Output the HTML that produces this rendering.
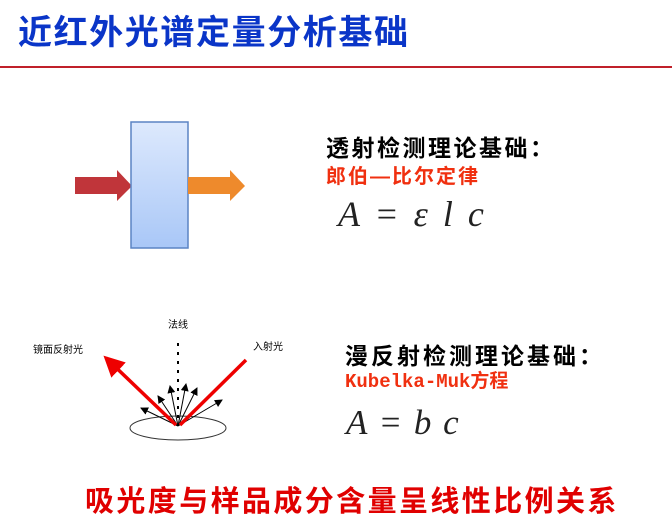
<!DOCTYPE html>
<html><head><meta charset="utf-8"><style>
body{margin:0;width:672px;height:528px;background:#fff;position:relative;overflow:hidden;font-family:"Liberation Sans","Noto Sans CJK SC",sans-serif}
.a{position:absolute;white-space:nowrap;font-weight:bold}
.f{position:absolute;white-space:nowrap;font-family:"Liberation Serif","DejaVu Serif",serif;font-style:italic;color:#222}
</style></head><body>
<div class="a" style="left:18px;top:5px;font-size:34px;color:#0a35c8;letter-spacing:1.6px">近红外光谱定量分析基础</div>
<div style="position:absolute;left:0;top:66px;width:672px;height:2px;background:#c0202a"></div>

<svg style="position:absolute;left:0;top:0" width="672" height="528">
<defs><linearGradient id="g" x1="0" y1="0" x2="0" y2="1"><stop offset="0" stop-color="#dde9fd"/><stop offset="1" stop-color="#a9c7f7"/></linearGradient>
<marker id="ar" markerWidth="6" markerHeight="6" refX="5" refY="3" orient="auto"><path d="M0,0L6,3L0,6z" fill="#e00"/></marker>
<marker id="ab" markerWidth="8" markerHeight="8" refX="7" refY="4" orient="auto" markerUnits="userSpaceOnUse"><path d="M0,0L8,4L0,8z" fill="#000"/></marker></defs>
<path d="M75,177H117V170L132,186L117,201V194H75z" fill="#c0353a"/>
<rect x="131" y="122" width="57" height="126" fill="url(#g)" stroke="#5b84c4" stroke-width="1.5"/>
<path d="M188,177H230V170L245,186L230,201V194H188z" fill="#ee8a2c"/>
<ellipse cx="178" cy="428" rx="48" ry="12" fill="none" stroke="#333" stroke-width="1"/>
<line x1="178" y1="343" x2="178" y2="420" stroke="#000" stroke-width="2" stroke-dasharray="3,6"/>
<g stroke="#000" stroke-width="1" marker-end="url(#ab)">
<line x1="178" y1="426" x2="141" y2="408"/><line x1="178" y1="426" x2="158" y2="396"/>
<line x1="178" y1="426" x2="170" y2="386"/><line x1="178" y1="426" x2="186" y2="384"/>
<line x1="178" y1="426" x2="197" y2="388"/><line x1="178" y1="426" x2="222" y2="400"/>
</g>
<line x1="246" y1="360" x2="180" y2="425" stroke="#e00" stroke-width="3.5"/>
<line x1="176" y1="425" x2="106" y2="358" stroke="#e00" stroke-width="3.5" marker-end="url(#ar)"/>
<text x="168" y="328" font-size="10" font-family="Noto Sans CJK SC,sans-serif">法线</text>
<text x="33" y="353" font-size="10" font-family="Noto Sans CJK SC,sans-serif">镜面反射光</text>
<text x="253" y="350" font-size="10" font-family="Noto Sans CJK SC,sans-serif">入射光</text>
</svg>

<div class="a" style="left:326px;top:129px;font-size:23px;color:#000;letter-spacing:2.5px">透射检测理论基础：</div>
<div class="a" style="left:326px;top:160px;font-size:20px;color:#f03010;letter-spacing:2px">郎伯—比尔定律</div>
<div class="f" style="left:338px;top:193px;font-size:36px;word-spacing:6px">A = ε l c</div>

<div class="a" style="left:345px;top:337px;font-size:23px;color:#000;letter-spacing:3px">漫反射检测理论基础：</div>
<div class="a" style="left:345px;top:366px;font-size:19px;color:#f03010;font-family:'Liberation Mono','Noto Sans CJK SC',monospace">Kubelka-Muk方程</div>
<div class="f" style="left:346px;top:403px;font-size:35px;word-spacing:3px">A = b c</div>

<div class="a" style="left:85px;top:478px;font-size:29px;color:#e00000;letter-spacing:2.4px">吸光度与样品成分含量呈线性比例关系</div>
</body></html>
